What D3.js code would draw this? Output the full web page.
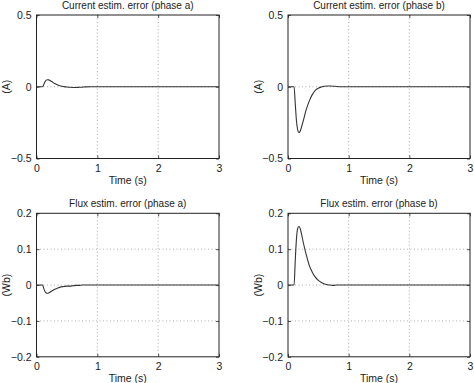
<!DOCTYPE html>
<html><head><meta charset="utf-8">
<script src="https://cdn.jsdelivr.net/npm/d3@7"></script>
<style>
html,body{margin:0;padding:0;background:#fff;}
text{font-family:"Liberation Sans",Arial,Helvetica,sans-serif;fill:#222;}
</style></head>
<body>
<svg id="c" width="474" height="383"></svg>
<script>
const time = [0,0.05,0.1,0.12,0.14,0.16,0.18,0.2,0.22,0.25,0.3,0.35,0.4,0.45,0.5,0.55,0.6,0.65,0.7,0.75,0.8,0.9,1.0,1.5,2,2.5,3];
const currentA = [0,0,0,0.015,0.035,0.046,0.049,0.048,0.044,0.036,0.022,0.012,0.005,0.001,-0.002,-0.004,-0.005,-0.005,-0.004,-0.003,-0.001,0,0,0,0,0,0];
const currentB = [0,0,0,-0.12,-0.24,-0.30,-0.32,-0.31,-0.285,-0.24,-0.16,-0.10,-0.055,-0.025,-0.01,-0.002,0.003,0.005,0.005,0.004,0.002,0,0,0,0,0,0];
const fluxA = [0,0,0,-0.01,-0.018,-0.022,-0.023,-0.022,-0.02,-0.017,-0.012,-0.008,-0.005,-0.004,-0.003,-0.003,-0.002,-0.001,-0.001,0,0,0,0,0,0,0,0];
const fluxB = [0,0,0,0.07,0.13,0.158,0.163,0.158,0.145,0.12,0.085,0.055,0.036,0.022,0.013,0.007,0.003,0.001,0,-0.001,0,0,0,0,0,0,0];
const xTicks = [0,1,2,3];
const currentTicks = [-0.5,0,0.5];
const fluxTicks = [-0.2,-0.1,0,0.1,0.2];
const titles = ["Current estim. error (phase a)","Current estim. error (phase b)","Flux estim. error (phase a)","Flux estim. error (phase b)"];
const yLabels = ["(A)","(A)","(Wb)","(Wb)"];
const xLabel = "Time (s)";

const svg = d3.select("#c");
const panels = [
  {x0:36.5,x1:219,y0:15,y1:158.5,data:currentA,yd:[-0.5,0.5],yt:currentTicks,title:titles[0],yl:yLabels[0],ylx:6},
  {x0:288,x1:470,y0:15,y1:158.5,data:currentB,yd:[-0.5,0.5],yt:currentTicks,title:titles[1],yl:yLabels[1],ylx:258},
  {x0:36.5,x1:219,y0:213.3,y1:356.8,data:fluxA,yd:[-0.2,0.2],yt:fluxTicks,title:titles[2],yl:yLabels[2],ylx:6},
  {x0:288,x1:470,y0:213.3,y1:356.8,data:fluxB,yd:[-0.2,0.2],yt:fluxTicks,title:titles[3],yl:yLabels[3],ylx:258}
];
const fmt = v => (v<0?"\u2212":"") + (Math.abs(v)===0?"0":String(Math.abs(v)));

panels.forEach(p=>{
  const x = d3.scaleLinear().domain([0,3]).range([p.x0,p.x1]);
  const y = d3.scaleLinear().domain(p.yd).range([p.y1,p.y0]);
  const g = svg.append("g");
  // grid
  xTicks.filter(t=>t>0&&t<3).forEach(t=>{
    g.append("line").attr("x1",x(t)).attr("x2",x(t)).attr("y1",p.y0).attr("y2",p.y1)
      .attr("stroke","#999").attr("stroke-width",0.8).attr("stroke-dasharray","1,2.5");
  });
  p.yt.filter(t=>t>p.yd[0]&&t<p.yd[1]).forEach(t=>{
    g.append("line").attr("x1",p.x0).attr("x2",p.x1).attr("y1",y(t)).attr("y2",y(t))
      .attr("stroke","#999").attr("stroke-width",0.8).attr("stroke-dasharray","1,2.5");
  });
  // axes with inward ticks
  const ax = d3.axisBottom(x).tickValues(xTicks).tickSize(-3).tickPadding(6).tickFormat(d=>String(d));
  const axT = d3.axisTop(x).tickValues(xTicks).tickSize(-3).tickFormat("");
  const ay = d3.axisLeft(y).tickValues(p.yt).tickSize(-3).tickPadding(5).tickFormat(fmt);
  const ayR = d3.axisRight(y).tickValues(p.yt).tickSize(-3).tickFormat("");
  [[ax,`translate(0,${p.y1})`],[axT,`translate(0,${p.y0})`],[ay,`translate(${p.x0},0)`],[ayR,`translate(${p.x1},0)`]].forEach(([a,tr])=>{
    const s = g.append("g").attr("transform",tr).call(a);
    s.select(".domain").remove();
    s.selectAll("line").attr("stroke","#222").attr("stroke-width",0.8);
    s.selectAll("text").attr("font-size","10.5px").attr("fill","#222").attr("font-family","Liberation Sans, Arial, sans-serif");
  });
  // frame
  g.append("rect").attr("x",p.x0).attr("y",p.y0).attr("width",p.x1-p.x0).attr("height",p.y1-p.y0)
    .attr("fill","none").attr("stroke","#222").attr("stroke-width",1);
  // curve
  const line = d3.line().x((d,i)=>x(time[i])).y(d=>y(d)).curve(d3.curveMonotoneX);
  g.append("path").datum(p.data).attr("d",line).attr("fill","none").attr("stroke","#333").attr("stroke-width",1.1);
  // title
  g.append("text").attr("x",(p.x0+p.x1)/2).attr("y",p.y0-6).attr("text-anchor","middle").attr("font-size","10px").text(p.title);
  g.append("text").attr("x",(p.x0+p.x1)/2).attr("y",p.y1+25).attr("text-anchor","middle").attr("font-size","10.5px").text(xLabel);
  g.append("text").attr("transform",`translate(${p.ylx},${(p.y0+p.y1)/2}) rotate(-90)`).attr("dy","0.35em").attr("text-anchor","middle").attr("font-size","10.5px").text(p.yl);
});
</script>
</body></html>
